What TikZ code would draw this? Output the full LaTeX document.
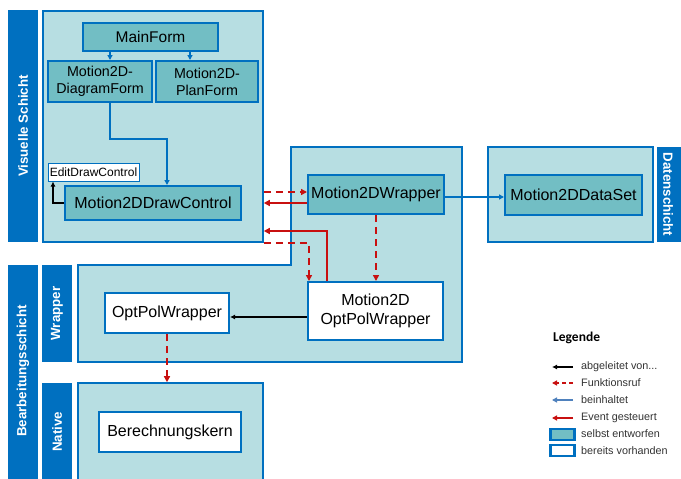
\documentclass[tikz,border=0pt]{standalone}
\usepackage{fontspec}
\setmainfont{Liberation Sans}
\newfontfamily\legfont{Carlito}
\usetikzlibrary{arrows.meta}

\definecolor{layerblue}{RGB}{0,112,192}
\definecolor{regionfill}{RGB}{183,222,226}
\definecolor{ownfill}{RGB}{114,190,196}
\definecolor{callred}{RGB}{200,16,16}
\definecolor{legblue}{RGB}{79,129,189}
\definecolor{legtext}{RGB}{51,51,51}

\tikzset{
  layerbar/.style={rectangle, fill=layerblue, draw=none, inner sep=0pt},
  layerlabel/.style={text=white, font=\fontsize{13.3}{14}\selectfont\bfseries, inner sep=0pt},
  region/.style={rectangle, fill=regionfill, draw=layerblue, line width=1.6pt, inner sep=0pt},
  ownbox/.style={rectangle, fill=ownfill, draw=layerblue, line width=2pt, inner sep=0pt,
    align=center, font=\fontsize{16}{19}\selectfont},
  extbox/.style={ownbox, fill=white},
  contains/.style={draw=layerblue, line width=1.5pt, -{Triangle[length=5pt,width=5pt]}},
  derived/.style={draw=black, line width=1.8pt, -{Latex[length=5pt,width=5pt]}},
  callarrow/.style={draw=callred, line width=1.8pt, dash pattern=on 7pt off 5pt,
    -{Triangle[length=6pt,width=6pt]}},
  eventarrow/.style={draw=callred, line width=1.8pt, -{Triangle[length=6pt,width=6pt]}},
  legitem/.style={anchor=west, inner sep=0pt, text=legtext, font=\fontsize{10.8}{12}\selectfont},
}

\begin{document}
\begin{tikzpicture}[x=1pt,y=-1pt]
\clip (0,0) rectangle (681,479);
\fill[white] (0,0) rectangle (681,479);

% layer bars
\node[layerbar, minimum width=30, minimum height=232] (barvis) at (23,126) {};
\node[layerlabel, rotate=90] (lblvis) at (barvis.center) {Visuelle Schicht};
\node[layerbar, minimum width=30, minimum height=216] (barbear) at (23,373) {};
\node[layerlabel, rotate=90] (lblbear) at (23,371) {Bearbeitungsschicht};
\node[layerbar, minimum width=30, minimum height=97] (barwrap) at (57,313.5) {};
\node[layerlabel, rotate=90] (lblwrap) at (barwrap.center) {Wrapper};
\node[layerbar, minimum width=30, minimum height=106] (barnat) at (57,436) {};
\node[layerlabel, rotate=90] (lblnat) at (57,432) {Native};
\node[layerbar, minimum width=24, minimum height=95] (bardat) at (669,194.5) {};
\node[layerlabel, rotate=-90] (lbldat) at (668,194.5) {Datenschicht};

% layer regions
\node[region, minimum width=220, minimum height=231] (vis) at (153,126.5) {};
\filldraw[fill=regionfill, draw=layerblue, line width=1.6pt]
  (78,265) -- (291,265) -- (291,147) -- (462,147) -- (462,362) -- (78,362) -- cycle;
\node[region, minimum width=185, minimum height=110] (native) at (170.5,438) {};
\node[region, minimum width=165, minimum height=95] (datreg) at (570.5,194.5) {};

% classes
\node[ownbox, minimum width=135, minimum height=28, font=\fontsize{15.5}{18}\selectfont]
  (mainform) at (150.5,37) {MainForm};
\node[ownbox, minimum width=104, minimum height=41, font=\fontsize{14.3}{17}\selectfont]
  (diagform) at (100,81.5) {Motion2D-\\DiagramForm};
\node[ownbox, minimum width=102, minimum height=41, font=\fontsize{14.3}{17}\selectfont]
  (planform) at (207,81.5) {Motion2D-\\PlanForm};
\node[extbox, minimum width=91, minimum height=18, line width=1pt, font=\fontsize{12}{14}\selectfont]
  (editdc) at (93.5,172) {EditDrawControl};
\node[ownbox, minimum width=176, minimum height=34] (drawctl) at (153,203) {Motion2DDrawControl};
\node[ownbox, minimum width=136, minimum height=39] (wrap) at (376,194.5) {Motion2DWrapper};
\node[ownbox, minimum width=137, minimum height=40] (dataset) at (573.5,195) {Motion2DDataSet};
\node[extbox, minimum width=135, minimum height=58] (opt2d) at (375.5,311) {Motion2D\\OptPolWrapper};
\node[extbox, minimum width=124, minimum height=40] (optpol) at (167,313) {OptPolWrapper};
\node[extbox, minimum width=142, minimum height=40] (kern) at (170,432) {Berechnungskern};

% levels used by the connectors
\coordinate (yCallA) at (0,192);
\coordinate (yEvtA) at (0,203);
\coordinate (yEvtB) at (0,231);
\coordinate (yCallB) at (0,243);
\coordinate (xEvtB) at (327,0);
\coordinate (xCallB) at (309,0);
\coordinate (yDer) at (0,317);
\coordinate (yData) at (0,197);

% containment
\draw[contains] ([xshift=-40.5pt]mainform.south) -- ([xshift=10pt]diagform.north);
\draw[contains] ([xshift=39.5pt]mainform.south) -- ([xshift=-17pt]planform.north);
\draw[contains] ([xshift=10pt]diagform.south) -- ++(0,36) -| ([xshift=14pt]drawctl.north);
\draw[contains] (wrap.east |- yData) -- (dataset.west |- yData);

% inheritance
\draw[derived] (drawctl.west) -| ([xshift=-40.5pt]editdc.south);
\draw[derived] (opt2d.west |- yDer) -- (optpol.east |- yDer);

% function calls and events
\draw[callarrow] (vis.east |- yCallA) -- (wrap.west |- yCallA);
\draw[eventarrow] (wrap.west |- yEvtA) -- (vis.east |- yEvtA);
\draw[eventarrow] (opt2d.north -| xEvtB) |- (vis.east |- yEvtB);
\draw[callarrow] (vis.east |- yCallB) -| (opt2d.north -| xCallB);
\draw[callarrow] (wrap.south) -- (wrap.south |- opt2d.north);
\draw[callarrow] (optpol.south) -- (optpol.south |- native.north);

% legend
\node[anchor=west, inner sep=0pt, font=\legfont\fontsize{13.5}{15}\selectfont\bfseries] (legtitle) at (553,338) {Legende};
\coordinate (la1) at (573,367); \coordinate (lb1) at (552,367);
\coordinate (la2) at (573,383); \coordinate (lb2) at (552,383);
\coordinate (la3) at (573,400); \coordinate (lb3) at (552,400);
\coordinate (la4) at (573,418); \coordinate (lb4) at (552,418);
\draw[derived, line width=1.7pt] (la1) -- (lb1);
\draw[callarrow, line width=1.7pt, dash pattern=on 4pt off 3pt, -{Triangle[length=5pt,width=5pt]}] (la2) -- (lb2);
\draw[contains, draw=legblue, line width=1.7pt, -{Triangle[length=5pt,width=5pt]}] (la3) -- (lb3);
\draw[eventarrow, line width=1.7pt, -{Triangle[length=5pt,width=5pt]}] (la4) -- (lb4);
\node[ownbox, minimum width=24, minimum height=11, line width=2.3pt] (lbox1) at (562.5,434.5) {};
\node[extbox, minimum width=24, minimum height=11, line width=2.3pt] (lbox2) at (562.5,450.5) {};
\node[legitem] (lt1) at (581,367) {abgeleitet von...};
\node[legitem] (lt2) at (581,383) {Funktionsruf};
\node[legitem] (lt3) at (581,400) {beinhaltet};
\node[legitem] (lt4) at (581,418) {Event gesteuert};
\node[legitem] (lt5) at (581,434) {selbst entworfen};
\node[legitem] (lt6) at (581,450.5) {bereits vorhanden};
\end{tikzpicture}
\end{document}
